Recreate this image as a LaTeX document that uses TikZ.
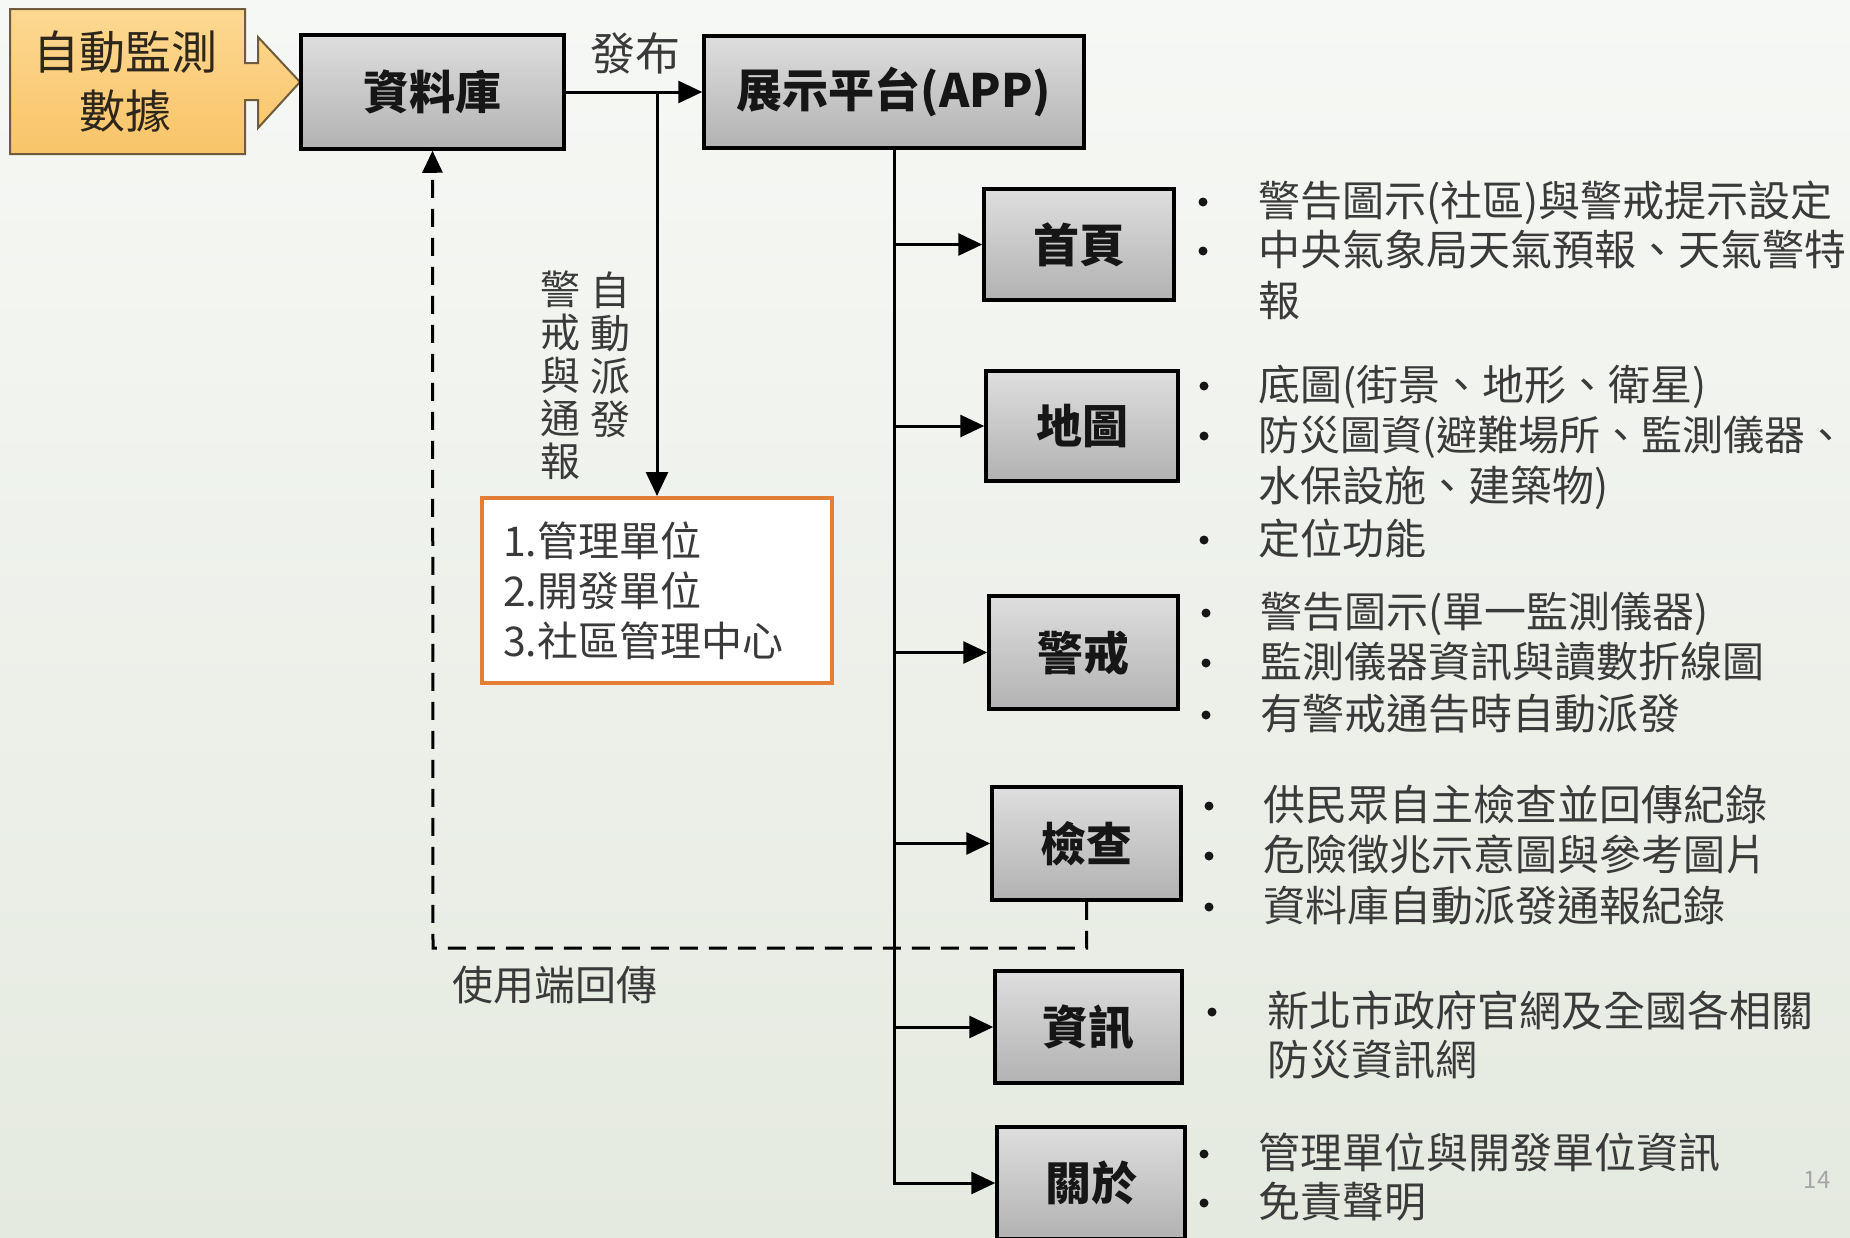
\documentclass[tikz,border=0pt]{standalone}
\usepackage{fontspec}
\newfontfamily\cjk{Noto Sans CJK TC}
\usetikzlibrary{arrows.meta}
\definecolor{txtc}{RGB}{58,58,58}
\definecolor{txtd}{RGB}{22,22,22}
\definecolor{boxtop}{RGB}{222,222,222}
\definecolor{boxbot}{RGB}{178,178,178}
\definecolor{orgline}{RGB}{228,126,52}
\definecolor{caltop}{RGB}{253,216,146}
\definecolor{calbot}{RGB}{248,196,104}
\definecolor{calline}{RGB}{110,92,60}
\definecolor{caltxt}{RGB}{45,38,28}
\definecolor{bgtop}{RGB}{246,248,245}
\definecolor{bgbot}{RGB}{229,234,224}
\definecolor{numc}{RGB}{165,165,165}
\begin{document}
\begin{tikzpicture}[x=1pt,y=-1pt,
  box/.style={draw=black, line width=3.5pt, top color=boxtop, bottom color=boxbot,
    minimum width=190pt, minimum height=111pt, inner sep=0pt,
    font=\cjk\bfseries\fontsize{46}{50}\selectfont, text=txtd},
  arr/.style={line width=3pt, -{Triangle[length=24pt,width=22pt]}},
  dsh/.style={line width=3pt, dash pattern=on 18pt off 11pt, -{Triangle[length=22pt,width=20pt]}},
  txt/.style={anchor=base west, inner sep=0pt, font=\cjk\fontsize{42}{50}\selectfont, text=txtc},
  bul/.style={circle, fill=txtd, inner sep=0pt, minimum size=9pt},
  vt/.style={inner sep=0pt, align=center, font=\cjk\fontsize{40}{43}\selectfont, text=txtc},
  lbl/.style={inner sep=0pt, font=\cjk\fontsize{42}{50}\selectfont, text=txtc}
]
\path[use as bounding box, top color=bgtop, bottom color=bgbot] (0,0) rectangle (1850,1237);

% source callout
\draw[line width=2pt, draw=calline, top color=caltop, bottom color=calbot]
  (10,9) -- (245,9) -- (245,63) -- (258,63) -- (258,37) -- (300,82) -- (258,128)
  -- (258,100) -- (245,100) -- (245,154) -- (10,154) -- cycle;
\node[inner sep=0pt, align=center, font=\cjk\fontsize{46}{59}\selectfont, text=caltxt] (src) at (126,81) {自動監測\\數據};

% main boxes
\node[box, minimum width=263pt, minimum height=114pt] (db) at (432.5,92) {資料庫};
\node[box, minimum width=380pt, minimum height=112pt] (app) at (894,92) {展示平台(APP)};

\node[box] (home) at (1079,244.5) {首頁};
\node[box, minimum width=192pt, minimum height=110pt] (map) at (1082,426) {地圖};
\node[box, minimum width=189pt, minimum height=113pt] (warn) at (1083.5,652.5) {警戒};
\node[box, minimum width=189pt, minimum height=113pt] (check) at (1086.5,843.5) {檢查};
\node[box, minimum width=187pt, minimum height=112pt] (info) at (1088.5,1027) {資訊};
\node[box, minimum width=188pt, minimum height=112pt] (about) at (1091,1183) {關於};

% orange box
\node[draw=orgline, line width=4pt, fill=white, minimum width=350pt, minimum height=185pt,
  text width=308pt, inner xsep=21pt, inner ysep=0pt, align=left,
  font=\cjk\fontsize{41}{50}\selectfont, text=txtc] (org) at (657,590.5)
  {1.管理單位\\2.開發單位\\3.社區管理中心};

% connectors
\draw[arr] (db.east) -- (app.west);
\node[lbl, font=\cjk\fontsize{45}{50}\selectfont] (pub) at (635,53) {發布};
\draw[arr] (db.east -| org.north) -- (org.north);
\node[vt] (v1) at (610,355) {自\\動\\派\\發};
\node[vt] (v2) at (560,375) {警\\戒\\與\\通\\報};

\draw[arr] (app.south) |- (about.west);
\foreach \n in {home,map,warn,check,info}
  \draw[arr] (app.south |- \n.west) -- (\n.west);

\coordinate (ret) at (433,948);
\draw[dsh] (check.south) |- (ret) -- (db.south);
\node[lbl, anchor=west, font=\cjk\fontsize{41}{50}\selectfont] (retlbl) at (452,985) {使用端回傳};

% bullet texts
\node[bul] (b1) at (1203,202) {};
\node[txt] (t1) at (1258,216) {警告圖示(社區)與警戒提示設定};
\node[bul] (b2) at (1203,251) {};
\node[txt] (t2) at (1258,265) {中央氣象局天氣預報、天氣警特};
\node[txt] (t3) at (1258,316) {報};

\node[bul] (b4) at (1204,386) {};
\node[txt] (t4) at (1258,400) {底圖(街景、地形、衛星)};
\node[bul] (b5) at (1204,436) {};
\node[txt, font=\cjk\fontsize{41}{50}\selectfont] (t5) at (1258,450) {防災圖資(避難場所、監測儀器、};
\node[txt] (t6) at (1258,501) {水保設施、建築物)};
\node[bul] (b7) at (1204,540) {};
\node[txt] (t7) at (1258,554) {定位功能};

\node[bul] (b8) at (1206,613) {};
\node[txt] (t8) at (1260,627) {警告圖示(單一監測儀器)};
\node[bul] (b9) at (1206,663) {};
\node[txt] (t9) at (1260,677) {監測儀器資訊與讀數折線圖};
\node[bul] (b10) at (1206,715) {};
\node[txt] (t10) at (1260,729) {有警戒通告時自動派發};

\node[bul] (b11) at (1209,806) {};
\node[txt] (t11) at (1263,820) {供民眾自主檢查並回傳紀錄};
\node[bul] (b12) at (1209,856) {};
\node[txt] (t12) at (1263,870) {危險徵兆示意圖與參考圖片};
\node[bul] (b13) at (1209,907) {};
\node[txt] (t13) at (1263,921) {資料庫自動派發通報紀錄};

\node[bul] (b14) at (1212,1012) {};
\node[txt] (t14) at (1267,1026) {新北市政府官網及全國各相關};
\node[txt] (t15) at (1267,1075) {防災資訊網};

\node[bul] (b16) at (1204,1154) {};
\node[txt] (t16) at (1258,1168) {管理單位與開發單位資訊};
\node[bul] (b17) at (1204,1203) {};
\node[txt] (t17) at (1258,1217) {免責聲明};

\node[inner sep=0pt, font=\cjk\fontsize{24}{28}\selectfont, text=numc] (pg) at (1817,1180) {14};
\end{tikzpicture}
\end{document}
